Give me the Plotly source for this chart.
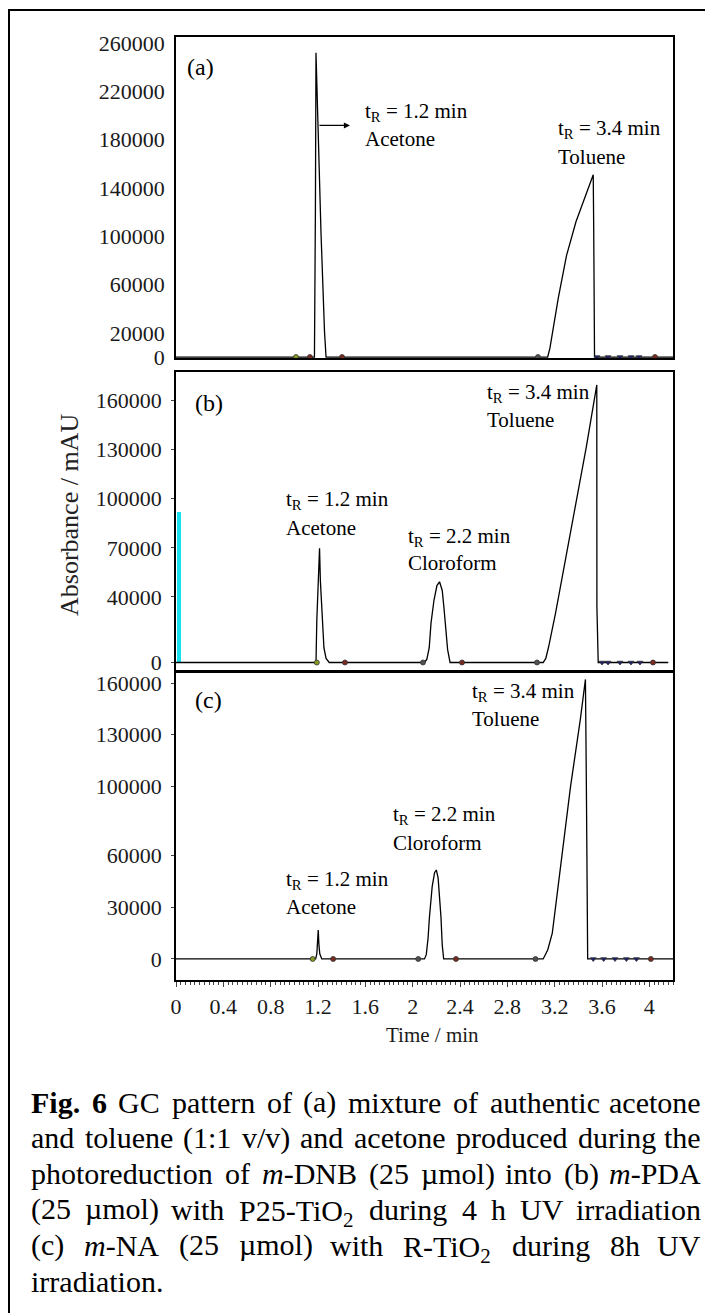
import re
import plotly.graph_objects as go

# ---------------- canvas geometry ----------------
# The page body has an 8 px margin, so the figure is drawn 8 px in from the window corner.
OFF = 8
W, H = 713 - OFF, 1313 - OFF
PL, PR, PT, PB = 176, 673, 37, 980          # plot area in window pixels
ML, MT = PL - OFF, PT - OFF
MR, MB = W - (PR - OFF), H - (PB - OFF)
PW, PH = W - ML - MR, H - MT - MB


def px_x(px):
    return (px - OFF - ML) / PW


def px_y(py):
    return (H - MB - (py - OFF)) / PH


SERIF = "Liberation Serif, Times New Roman, serif"

# ---------------- data ----------------
time_range = [0, 4.2]
x_tick_vals = [0, 0.4, 0.8, 1.2, 1.6, 2, 2.4, 2.8, 3.2, 3.6, 4]
x_tick_text = ["0", "0.4", "0.8", "1.2", "1.6", "2", "2.4", "2.8", "3.2", "3.6", "4"]

# panel (a): authentic acetone + toluene
a_time = [0, 1.170, 1.178, 1.183, 1.200, 1.225, 1.255, 1.268,
          3.141, 3.160, 3.230, 3.300, 3.380, 3.450, 3.526, 3.530, 3.537, 4.2]
a_signal = [0, 0, 120000, 252000, 192000, 104000, 21000, 0,
            0, 7400, 48600, 84000, 112000, 131000, 151000, 105000, 0, 0]
a_ticks = [0, 20000, 60000, 100000, 140000, 180000, 220000, 260000]
a_range = [-800, 265000]

# panel (b): P25-TiO2, 4 h
b_time = [0, 1.183, 1.190, 1.205, 1.213, 1.220, 1.235, 1.250, 1.268, 1.295,
          2.100, 2.120, 2.140, 2.155, 2.180, 2.205, 2.227, 2.250, 2.265, 2.277, 2.295, 2.316,
          3.103, 3.125, 3.149, 3.207, 3.280, 3.353, 3.468, 3.556, 3.557, 3.568, 4.16]
b_signal = [0, 0, 26000, 62000, 69700, 50000, 26000, 9000, 2500, 0,
            0, 2000, 9000, 24000, 38000, 47000, 49300, 44000, 33000, 24000, 8000, 0,
            0, 2500, 9600, 30000, 58000, 87000, 131800, 169500, 34000, 0, 0]
b_ticks = [0, 40000, 70000, 100000, 130000, 160000]
b_range = [-5200, 177400]
b_cyan_time = [0.025]
b_cyan_height = [92000]

# panel (c): R-TiO2, 8 h
c_time = [0, 1.180, 1.190, 1.197, 1.202, 1.208, 1.215, 1.232,
          2.100, 2.115, 2.130, 2.142, 2.165, 2.185, 2.200, 2.215, 2.228, 2.239, 2.250, 2.262,
          3.103, 3.141, 3.180, 3.230, 3.334, 3.416, 3.460, 3.468, 3.479, 4.2]
c_signal = [0, 0, 3000, 12000, 16800, 8000, 3000, 0,
            0, 2500, 12000, 24500, 42000, 50000, 51600, 47000, 36000, 24500, 8000, 0,
            0, 5200, 15000, 41900, 99900, 138500, 162100, 99900, 0, 0]
c_ticks = [0, 30000, 60000, 100000, 130000, 160000]
c_range = [-12200, 166400]

# integration event markers on the baseline
OL, BR, GR, NV = "#8a9a20", "#7a2a20", "#505050", "#1c1c70"
a_mark_time = [1.014, 1.132, 1.403, 3.059, 3.558, 3.651, 3.752, 3.845, 3.913, 4.048]
a_mark_color = [OL, BR, BR, GR, NV, NV, NV, NV, NV, BR]
b_mark_time = [1.190, 1.428, 2.087, 2.417, 3.051, 3.600, 3.651, 3.752, 3.845, 3.921, 4.031]
b_mark_color = [OL, BR, GR, BR, GR, NV, NV, NV, NV, NV, BR]
c_mark_time = [1.155, 1.328, 2.047, 2.366, 3.038, 3.526, 3.614, 3.710, 3.806, 3.891, 4.013]
c_mark_color = [OL, BR, GR, BR, GR, NV, NV, NV, NV, NV, BR]

# ---------------- figure ----------------
fig = go.Figure()

panels = [
    ("x", "y", a_time, a_signal, a_mark_time, a_mark_color),
    ("x2", "y2", b_time, b_signal, b_mark_time, b_mark_color),
    ("x3", "y3", c_time, c_signal, c_mark_time, c_mark_color),
]

fig.add_trace(go.Bar(x=b_cyan_time, y=b_cyan_height, width=0.035, xaxis="x2", yaxis="y2",
                     marker=dict(color="#19e0ee", line=dict(width=0)), showlegend=False))

for xa, ya, t, s, mt, mc in panels:
    fig.add_trace(go.Scatter(x=t, y=s, mode="lines", xaxis=xa, yaxis=ya,
                             line=dict(color="black", width=1.3), showlegend=False))
    symbols = ["triangle-down" if c == NV else "circle" for c in mc]
    fig.add_trace(go.Scatter(x=mt, y=[0] * len(mt), mode="markers", xaxis=xa, yaxis=ya,
                             marker=dict(size=5, color=mc, symbol=symbols,
                                         line=dict(color="#333333", width=0.8)),
                             showlegend=False))

tickfont = dict(family=SERIF, size=22, color="#1a1a1a")
common_x = dict(range=time_range, showline=True, mirror=True, linecolor="black", linewidth=1.6,
                showgrid=False, zeroline=False)
common_y = dict(showline=True, mirror=True, linecolor="black", linewidth=1.6,
                showgrid=False, zeroline=False, tickfont=tickfont, tickformat="d",
                ticklabelstandoff=5)

dom_a = [px_y(358), px_y(37)]
dom_b = [px_y(671), px_y(372)]
dom_c = [0, px_y(672)]

fig.update_layout(
    width=W, height=H,
    margin=dict(l=ML, r=MR, t=MT, b=MB, pad=0),
    paper_bgcolor="white", plot_bgcolor="white",
    bargap=0,
    xaxis=dict(**common_x, anchor="y", showticklabels=False, ticks=""),
    yaxis=dict(**common_y, domain=dom_a, range=a_range, tickvals=a_ticks, ticks=""),
    xaxis2=dict(**common_x, anchor="y2", showticklabels=False, ticks=""),
    yaxis2=dict(**common_y, domain=dom_b, range=b_range, tickvals=b_ticks,
                ticks="outside", ticklen=3, tickwidth=1),
    xaxis3=dict(**common_x, anchor="y3", tickvals=x_tick_vals, ticktext=x_tick_text,
                ticks="outside", ticklen=5, tickwidth=1, tickfont=tickfont,
                ticklabelstandoff=1,
                minor=dict(dtick=0.04, ticks="outside", ticklen=3, tickwidth=1, tick0=0)),
    yaxis3=dict(**common_y, domain=dom_c, range=c_range, tickvals=c_ticks,
                ticks="outside", ticklen=3, tickwidth=1),
)

# ---------------- peak labels ----------------
LBL = dict(family=SERIF, size=21, color="black")
PLBL = dict(family=SERIF, size=24, color="black")
labels = [
    ("x", "y", "(a)", 0.085, 240300, PLBL),
    ("x", "y", "t<sub>R</sub> = 1.2 min", 1.589, 203300, LBL),
    ("x", "y", "Acetone", 1.589, 180200, LBL),
    ("x", "y", "t<sub>R</sub> = 3.4 min", 3.220, 188500, LBL),
    ("x", "y", "Toluene", 3.220, 165400, LBL),
    ("x2", "y2", "(b)", 0.156, 158300, PLBL),
    ("x2", "y2", "t<sub>R</sub> = 1.2 min", 0.925, 99200, LBL),
    ("x2", "y2", "Acetone", 0.925, 82000, LBL),
    ("x2", "y2", "t<sub>R</sub> = 2.2 min", 1.951, 76800, LBL),
    ("x2", "y2", "Cloroform", 1.951, 60600, LBL),
    ("x2", "y2", "t<sub>R</sub> = 3.4 min", 2.623, 164800, LBL),
    ("x2", "y2", "Toluene", 2.623, 148100, LBL),
    ("x3", "y3", "(c)", 0.156, 150100, PLBL),
    ("x3", "y3", "t<sub>R</sub> = 1.2 min", 0.925, 45800, LBL),
    ("x3", "y3", "Acetone", 0.925, 30000, LBL),
    ("x3", "y3", "t<sub>R</sub> = 2.2 min", 1.824, 83500, LBL),
    ("x3", "y3", "Cloroform", 1.824, 67100, LBL),
    ("x3", "y3", "t<sub>R</sub> = 3.4 min", 2.489, 155000, LBL),
    ("x3", "y3", "Toluene", 2.489, 139000, LBL),
]
for xr, yr, txt, xv, yv, f in labels:
    fig.add_annotation(x=xv, y=yv, xref=xr, yref=yr, text=txt, showarrow=False,
                       xanchor="left", yanchor="middle", font=f, borderpad=0)

# arrow in panel (a)
fig.add_annotation(x=1.47, y=191800, ax=1.20, ay=191800, xref="x", yref="y",
                   axref="x", ayref="y", text="", showarrow=True,
                   arrowhead=2, arrowsize=1.1, arrowwidth=1.1, arrowcolor="black")

# axis titles
fig.add_annotation(x=px_x(70), y=px_y(515), xref="paper", yref="paper",
                   text="Absorbance / mAU", textangle=-90, showarrow=False,
                   font=dict(family=SERIF, size=26, color="#222222"),
                   xanchor="center", yanchor="middle")
fig.add_annotation(x=px_x(432), y=px_y(1035), xref="paper", yref="paper",
                   text="Time / min", showarrow=False,
                   font=dict(family=SERIF, size=21, color="#1a1a1a"),
                   xanchor="center", yanchor="middle")

# outer frame (top and left edges visible; the rest runs off the page)
fig.add_shape(type="rect", xref="paper", yref="paper",
              x0=px_x(9), x1=px_x(740), y0=px_y(1340), y1=px_y(10),
              line=dict(color="black", width=2), fillcolor="rgba(0,0,0,0)")

# ---------------- caption (justified) ----------------
REG = {' ': 250, '(': 333, ')': 333, '.': 250, ',': 250, '-': 333, '/': 278, ':': 278,
       'µ': 500,
       'a': 444, 'b': 500, 'c': 444, 'd': 500, 'e': 444, 'f': 333, 'g': 500, 'h': 500,
       'i': 278, 'j': 278, 'k': 500, 'l': 278, 'm': 778, 'n': 500, 'o': 500, 'p': 500,
       'q': 500, 'r': 333, 's': 389, 't': 278, 'u': 500, 'v': 500, 'w': 722, 'x': 500,
       'y': 500, 'z': 444,
       'A': 722, 'B': 667, 'C': 667, 'D': 722, 'E': 611, 'F': 556, 'G': 722, 'H': 722,
       'I': 333, 'J': 389, 'K': 722, 'L': 611, 'M': 889, 'N': 722, 'O': 722, 'P': 556,
       'Q': 722, 'R': 667, 'S': 556, 'T': 611, 'U': 722, 'V': 722, 'W': 944, 'X': 722,
       'Y': 722, 'Z': 611}
BOLD = {'F': 611, 'i': 278, 'g': 500, '.': 250, '6': 500}
ITAL = {'m': 722}


def text_width(s, size):
    st = {'b': False, 'i': False, 'sub': False}
    tot = 0.0
    for tok in re.split(r'(<[^>]+>)', s):
        if not tok:
            continue
        if tok.startswith('<'):
            st[tok.strip('</>')] = not tok.startswith('</')
            continue
        for ch in tok:
            if ch.isdigit() and not st['b']:
                w = 500
            elif st['b']:
                w = BOLD.get(ch, REG.get(ch, 500))
            elif st['i']:
                w = ITAL.get(ch, REG.get(ch, 500))
            else:
                w = REG.get(ch, 500)
            tot += w * (0.7 if st['sub'] else 1.0)
    return tot / 1000.0 * size


caption_lines = [
    ["<b>Fig.</b>", "<b>6</b>", "GC", "pattern", "of", "(a)", "mixture", "of", "authentic", "acetone"],
    ["and", "toluene", "(1:1", "v/v)", "and", "acetone", "produced", "during", "the"],
    ["photoreduction", "of", "<i>m</i>-DNB", "(25", "µmol)", "into", "(b)", "<i>m</i>-PDA"],
    ["(25", "µmol)", "with", "P25-TiO<sub>2</sub>", "during", "4", "h", "UV", "irradiation"],
    ["(c)", "<i>m</i>-NA", "(25", "µmol)", "with", "R-TiO<sub>2</sub>", "during", "8h", "UV"],
    ["irradiation."],
]
CAP_SIZE = 30
CAP_L, CAP_R = 30, 702
cap_font = dict(family=SERIF, size=CAP_SIZE, color="black")


def cap_word(text, xpx, ypx, anchor):
    shift = -4 if "<sub>" in text else 0
    fig.add_annotation(x=px_x(xpx), y=px_y(ypx), xref="paper", yref="paper",
                       text=text, showarrow=False, xanchor=anchor, yanchor="middle",
                       font=cap_font, borderpad=0, yshift=shift)


for li, words in enumerate(caption_lines):
    ly = 1102 + 35.8 * li
    if len(words) == 1:
        cap_word(words[0], CAP_L, ly, "left")
        continue
    widths = [text_width(w, CAP_SIZE) for w in words]
    gap = (CAP_R - CAP_L - sum(widths)) / (len(words) - 1)
    xpos = CAP_L
    for wi, w in enumerate(words):
        if wi == len(words) - 1:
            cap_word(w, CAP_R, ly, "right")
        else:
            cap_word(w, xpos, ly, "left")
        xpos += widths[wi] + gap

fig.write_html("out.html")
